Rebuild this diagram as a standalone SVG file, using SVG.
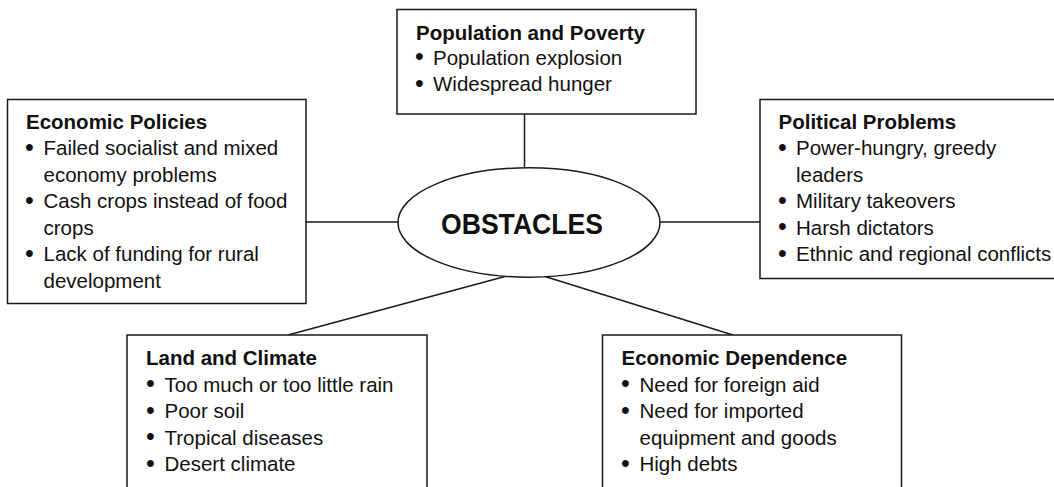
<svg xmlns="http://www.w3.org/2000/svg" width="1054" height="487" viewBox="0 0 1054 487">
<style>
.box{fill:#fff;stroke:#1a1a1a;stroke-width:1.5}
.ln{stroke:#1a1a1a;stroke-width:1.5;fill:none}
text{font-family:"Liberation Sans",Arial,sans-serif;font-size:20.5px;fill:#111}
.t{font-weight:bold}
.b{font-size:25px}
.big{font-weight:bold;font-size:30px}
</style>
<rect width="1054" height="487" fill="#fff"/>
<g id="connectors">
<line class="ln" x1="524.5" y1="114" x2="524.5" y2="168"/>
<line class="ln" x1="306" y1="222" x2="398" y2="222"/>
<line class="ln" x1="660" y1="222" x2="760" y2="222"/>
<line class="ln" x1="505" y1="276.5" x2="288" y2="335"/>
<line class="ln" x1="545" y1="276.5" x2="733" y2="335"/>
</g>
<g id="obstacles">
<ellipse class="box" cx="529" cy="222.5" rx="131" ry="54.7"/>
<text class="big" x="441" y="233.5" textLength="162" lengthAdjust="spacingAndGlyphs">OBSTACLES</text>
</g>
<g id="population">
<rect class="box" x="397" y="9.5" width="299" height="104.5"/>
<text class="t" x="416" y="39.5">Population and Poverty</text>
<text x="415" y="65"><tspan class="b">•</tspan><tspan x="433" y="64.5">Population explosion</tspan></text>
<text x="415" y="91.5"><tspan class="b">•</tspan><tspan x="433" y="91">Widespread hunger</tspan></text>
</g>
<g id="economic-policies">
<rect class="box" x="7.5" y="99.5" width="298.5" height="204"/>
<text class="t" x="26" y="128.5">Economic Policies</text>
<text x="25" y="155.5"><tspan class="b">•</tspan><tspan x="43.5" y="155">Failed socialist and mixed</tspan></text>
<text x="43.5" y="181.5">economy problems</text>
<text x="25" y="208.5"><tspan class="b">•</tspan><tspan x="43.5" y="208">Cash crops instead of food</tspan></text>
<text x="43.5" y="234.5">crops</text>
<text x="25" y="261.5"><tspan class="b">•</tspan><tspan x="43.5" y="261">Lack of funding for rural</tspan></text>
<text x="43.5" y="287.5">development</text>
</g>
<g id="political-problems">
<rect class="box" x="760" y="99.5" width="310" height="179"/>
<text class="t" x="778.5" y="128.5">Political Problems</text>
<text x="778" y="155.5"><tspan class="b">•</tspan><tspan x="796" y="155">Power-hungry, greedy</tspan></text>
<text x="796" y="181.5">leaders</text>
<text x="778" y="208.5"><tspan class="b">•</tspan><tspan x="796" y="208">Military takeovers</tspan></text>
<text x="778" y="235"><tspan class="b">•</tspan><tspan x="796" y="234.5">Harsh dictators</tspan></text>
<text x="778" y="261.5"><tspan class="b">•</tspan><tspan x="796" y="261">Ethnic and regional conflicts</tspan></text>
</g>
<g id="land-climate">
<rect class="box" x="127" y="335" width="300" height="170"/>
<text class="t" x="146" y="365">Land and Climate</text>
<text x="146" y="392"><tspan class="b">•</tspan><tspan x="164.5" y="391.5">Too much or too little rain</tspan></text>
<text x="146" y="418.5"><tspan class="b">•</tspan><tspan x="164.5" y="418">Poor soil</tspan></text>
<text x="146" y="445"><tspan class="b">•</tspan><tspan x="164.5" y="444.5">Tropical diseases</tspan></text>
<text x="146" y="471.5"><tspan class="b">•</tspan><tspan x="164.5" y="471">Desert climate</tspan></text>
</g>
<g id="economic-dependence">
<rect class="box" x="602.5" y="335" width="299" height="170"/>
<text class="t" x="621.5" y="365">Economic Dependence</text>
<text x="621" y="392"><tspan class="b">•</tspan><tspan x="639.5" y="391.5">Need for foreign aid</tspan></text>
<text x="621" y="418.5"><tspan class="b">•</tspan><tspan x="639.5" y="418">Need for imported</tspan></text>
<text x="639.5" y="444.5">equipment and goods</text>
<text x="621" y="471.5"><tspan class="b">•</tspan><tspan x="639.5" y="471">High debts</tspan></text>
</g>
</svg>
